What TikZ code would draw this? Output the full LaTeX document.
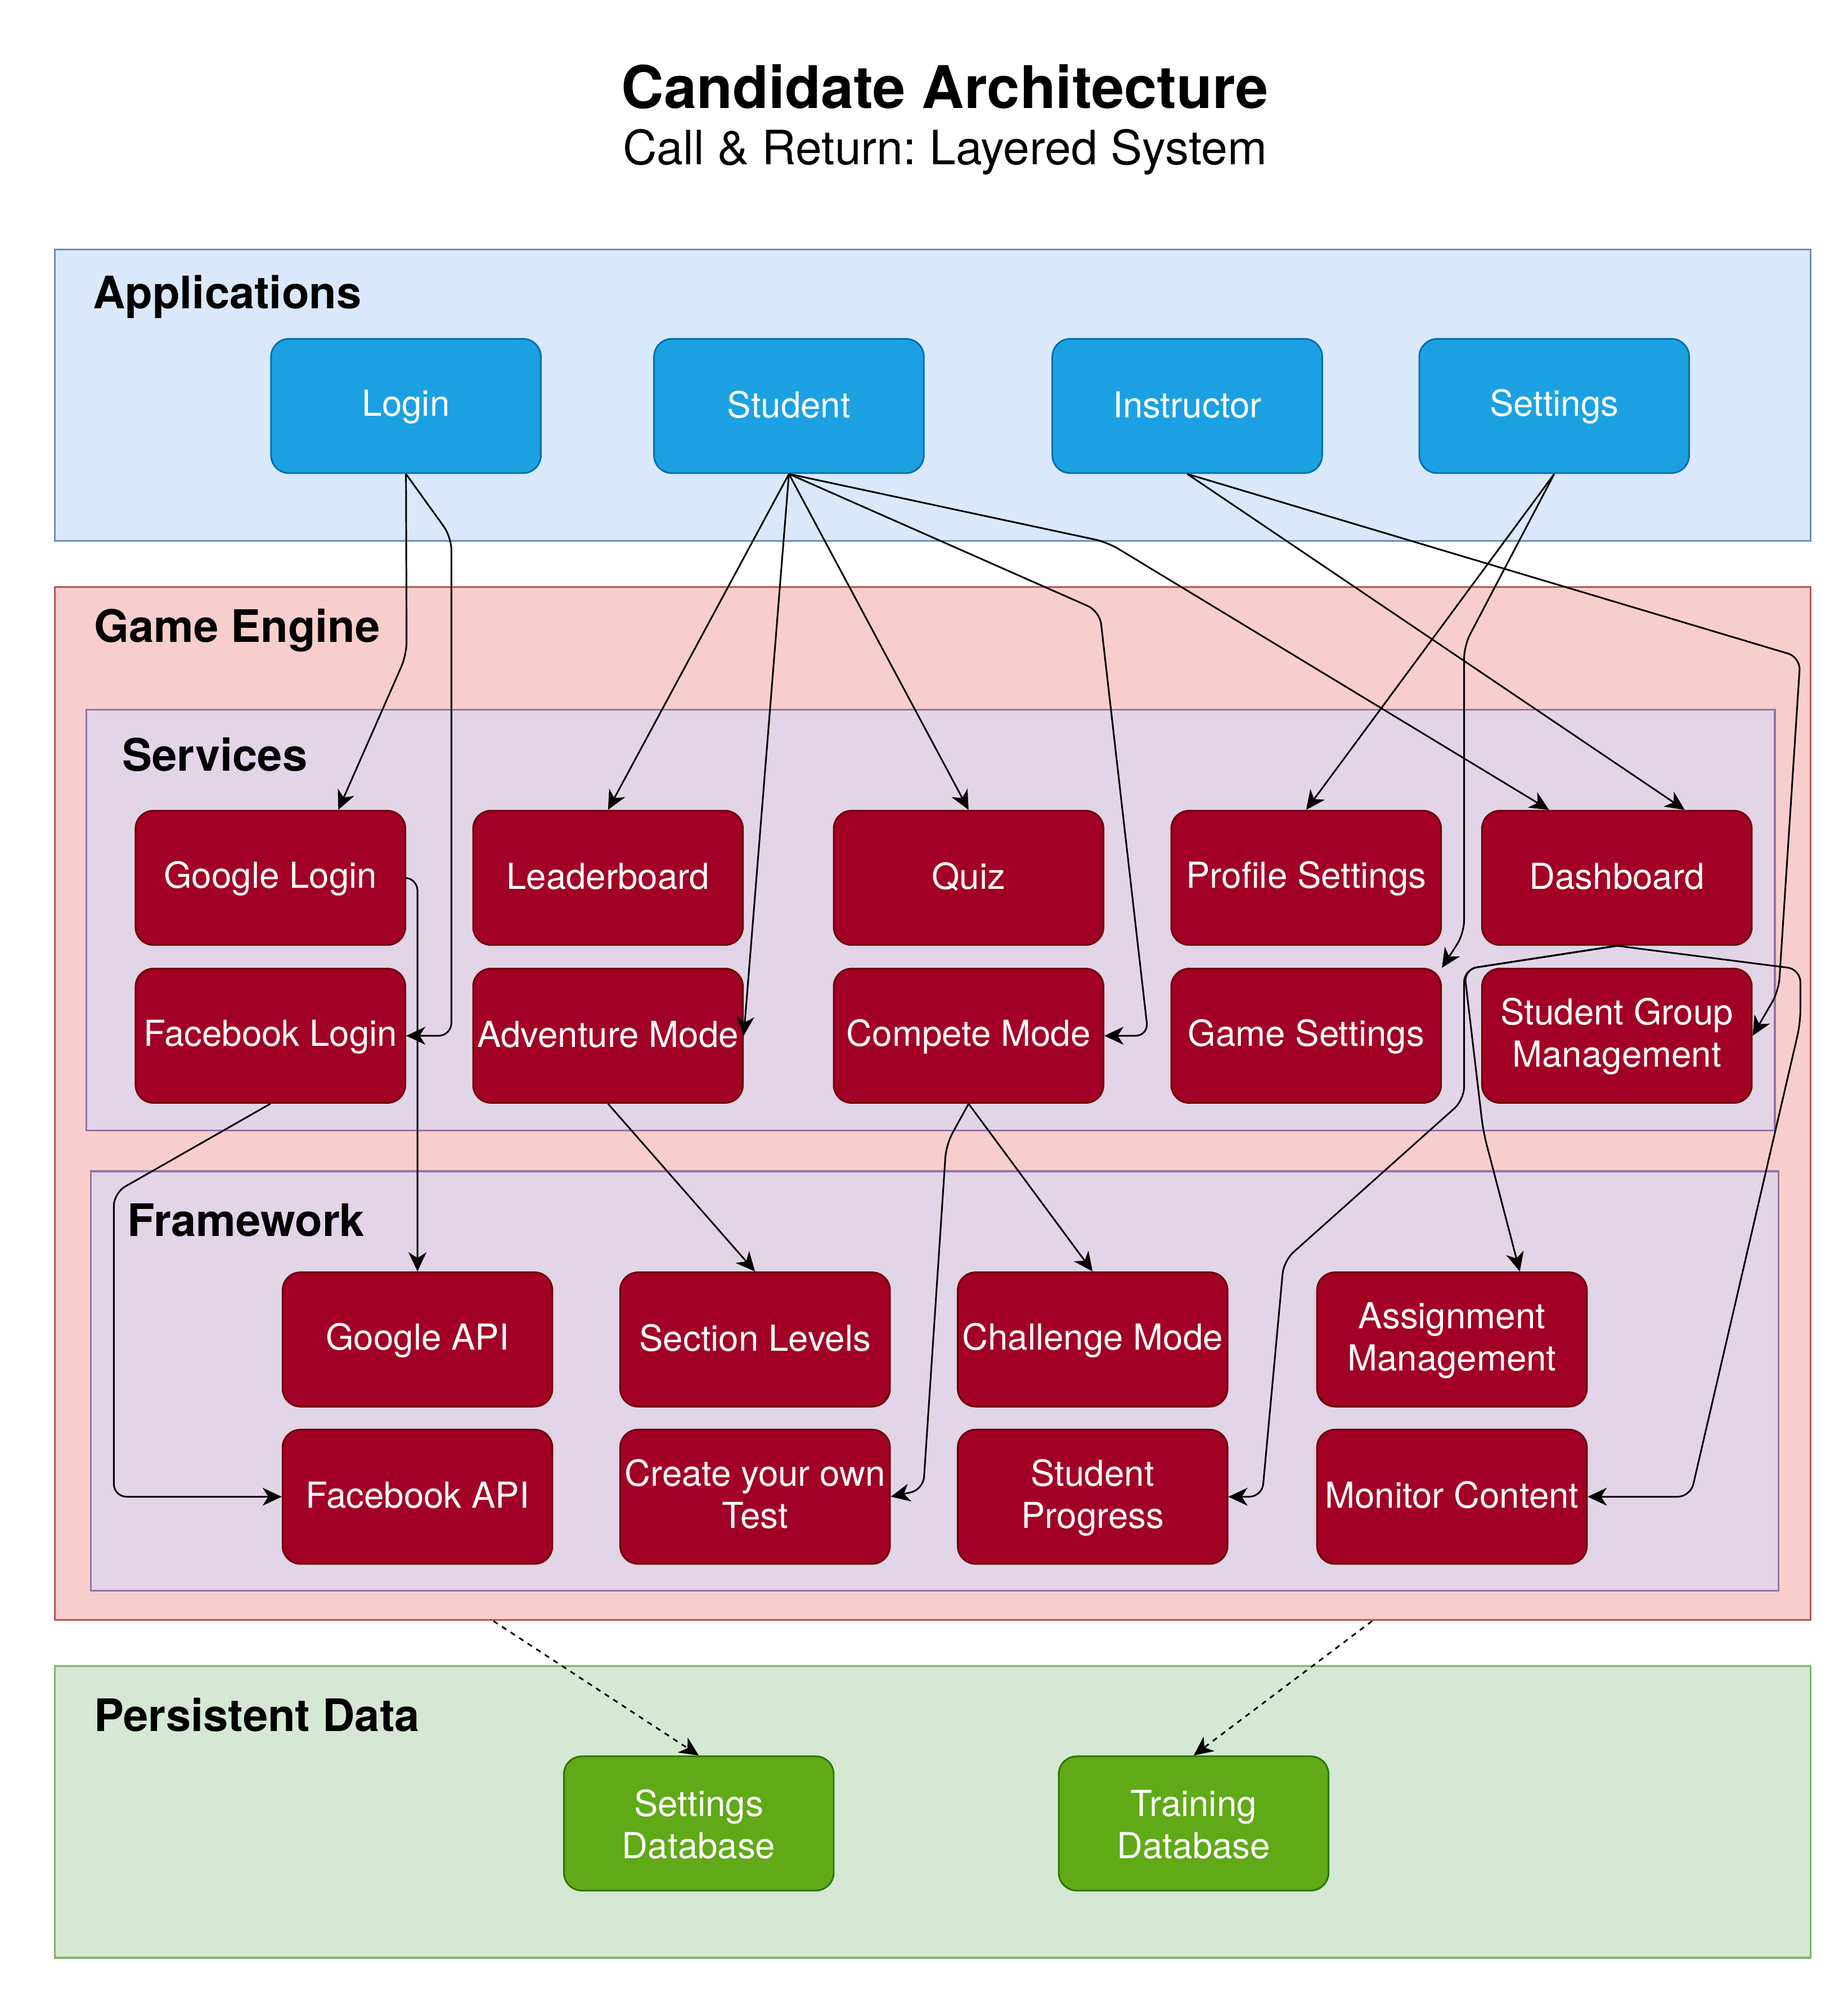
\documentclass[tikz,border=0pt]{standalone}
\usepackage{fontspec}
\setmainfont{TeX Gyre Heros}
\usetikzlibrary{arrows.meta, calc}
\definecolor{lightblue}{HTML}{DAE8FC}
\definecolor{blueedge}{HTML}{6C8EBF}
\definecolor{cyanfill}{HTML}{1BA1E2}
\definecolor{cyanedge}{HTML}{006EAF}
\definecolor{lightred}{HTML}{F8CECC}
\definecolor{rededge}{HTML}{B85450}
\definecolor{lightpurple}{HTML}{E1D5E7}
\definecolor{purpleedge}{HTML}{9673A6}
\definecolor{darkred}{HTML}{A20025}
\definecolor{darkrededge}{HTML}{6F0000}
\definecolor{lightgreen}{HTML}{D5E8D4}
\definecolor{greenedge}{HTML}{82B366}
\definecolor{darkgreen}{HTML}{60A917}
\definecolor{darkgreenedge}{HTML}{2D7600}
\frenchspacing

\begin{document}
\begin{tikzpicture}[x=1pt, y=-1pt, line width=1.3pt,
  layer/.style={draw, line width=1.4pt, inner sep=0pt},
  layertitle/.style={anchor=west, inner sep=0pt, font=\fontsize{35}{42}\selectfont\bfseries},
  box/.style={draw, rounded corners=14pt, minimum width=211pt, minimum height=105pt,
    inner sep=0pt, text=white, align=center, font=\fontsize{28}{33}\selectfont},
  appbox/.style={box, fill=cyanfill, draw=cyanedge},
  enginebox/.style={box, fill=darkred, draw=darkrededge},
  databox/.style={box, fill=darkgreen, draw=darkgreenedge},
  link/.style={-{Stealth[length=15pt, width=14pt, inset=4.5pt]}, rounded corners=10pt},
  datalink/.style={link, dash pattern=on 4pt off 4pt}]

  \useasboundingbox (0, 0) rectangle (1445, 1568);

  % title
  \node[font=\fontsize{46}{55}\selectfont\bfseries] (title) at (739, 68) {Candidate Architecture};
  \node[font=\fontsize{37}{44}\selectfont] (subtitle) at (739, 119) {Call \& Return: Layered System};

  % layers
  \node[layer, fill=lightblue, draw=blueedge, minimum width=1373pt, minimum height=228pt] (apps) at (729.5, 309) {};
  \node[layer, fill=lightred, draw=rededge, minimum width=1373pt, minimum height=808pt] (engine) at (729.5, 863) {};
  \node[layer, fill=lightpurple, draw=purpleedge, minimum width=1320.5pt, minimum height=329pt] (services) at (727.75, 719.5) {};
  \node[layer, fill=lightpurple, draw=purpleedge, minimum width=1320pt, minimum height=328pt] (framework) at (731, 1080) {};
  \node[layer, fill=lightgreen, draw=greenedge, minimum width=1373pt, minimum height=228pt] (data) at (729.5, 1417) {};

  \node[layertitle] (appslabel) at (72, 232) {Applications};
  \node[layertitle] (enginelabel) at (73, 493) {Game Engine};
  \node[layertitle] (serviceslabel) at (95, 590) {Services};
  \node[layertitle] (frameworklabel) at (99, 954) {Framework};
  \node[layertitle] (datalabel) at (73, 1341) {Persistent Data};

  % boxes
  \foreach \nm/\cx/\txt in {login/317.5/Login, student/617/Student,
      instructor/928.5/Instructor, settings/1215.5/Settings}
    \node[appbox] (\nm) at (\cx, 317.5) {\rule[-4pt]{0pt}{26pt}\txt};

  \foreach \nm/\cx/\txt in {glogin/211.5/Google Login, leader/475.5/Leaderboard,
      quiz/757.5/Quiz, profile/1021.5/Profile Settings, dashboard/1264.5/Dashboard}
    \node[enginebox] (\nm) at (\cx, 686.5) {\rule[-4pt]{0pt}{26pt}\txt};

  \foreach \nm/\cx/\txt in {flogin/211.5/Facebook Login, adventure/475.5/Adventure Mode,
      compete/757.5/Compete Mode, game/1021.5/Game Settings,
      group/1264.5/{Student Group\\Management}}
    \node[enginebox] (\nm) at (\cx, 810) {\rule[-4pt]{0pt}{26pt}\txt};

  \foreach \nm/\cx/\txt in {gapi/326.5/Google API, levels/590.5/Section Levels,
      challenge/854.5/Challenge Mode, assign/1135.5/{Assignment\\Management}}
    \node[enginebox] (\nm) at (\cx, 1047.5) {\rule[-4pt]{0pt}{26pt}\txt};

  \foreach \nm/\cx/\txt in {fapi/326.5/Facebook API, create/590.5/{Create your own\\Test\vphantom{g}},
      progress/854.5/{Student\\Progress}, monitor/1135.5/Monitor Content}
    \node[enginebox] (\nm) at (\cx, 1170.5) {\rule[-4pt]{0pt}{26pt}\txt};

  \node[databox] (setdb) at (546.5, 1426) {\rule[-4pt]{0pt}{26pt}Settings\\Database};
  \node[databox] (traindb) at (933.5, 1426) {\rule[-4pt]{0pt}{26pt}Training\\Database};

  % applications to services
  \draw[link] (login.south) -- (318, 512) -- ($(glogin.north)!0.5!(glogin.north east)$);
  \draw[link] (login.south) -- (353, 420) -- (353, 810) -- (flogin.east);

  \draw[link] (student.south) -- (leader.north);
  \draw[link] (student.south) -- (adventure.east);
  \draw[link] (student.south) -- (quiz.north);
  \draw[link] (student.south) -- (860, 478) -- (898, 810) -- (compete.east);
  \draw[link] (student.south) -- (866, 424) -- ($(dashboard.north west)!0.25!(dashboard.north east)$);

  \draw[link] (instructor.south) -- ($(dashboard.north west)!0.75!(dashboard.north east)$);
  \draw[link] (instructor.south) -- (1408, 514) -- (1391, 775) -- (group.east);

  \draw[link] (settings.south) -- (profile.north);
  \draw[link] (settings.south) -- (1145, 505) -- (1145, 730) -- (game.north east);

  % services to framework
  \draw[link] (glogin.east) -- (gapi.north |- glogin.east) -- (gapi.north);
  \draw[link] (flogin.south) -- (89, 933) -- (89, 1170.5) -- (fapi.west);
  \draw[link] (adventure.south) -- (levels.north);
  \draw[link] (compete.south) -- (challenge.north);
  \draw[link] (compete.south) -- (740, 895) -- (722, 1165) -- (create.east);
  \draw[link] (dashboard.south) -- (1145, 758) -- (1145, 860) -- (1004, 986) -- (987, 1170.5) -- (progress.east);
  \draw[link] (dashboard.south) -- (1145, 758) -- (1160, 885) -- ($(assign.north)!0.5!(assign.north east)$);
  \draw[link] (dashboard.south) -- (1408, 758) -- (1408, 800) -- (1322, 1170.5) -- (monitor.east);

  % engine to persistent data
  \draw[datalink] ($(engine.south west)!0.25!(engine.south east)$) -- (setdb.north);
  \draw[datalink] ($(engine.south west)!0.75!(engine.south east)$) -- (traindb.north);

\end{tikzpicture}
\end{document}
